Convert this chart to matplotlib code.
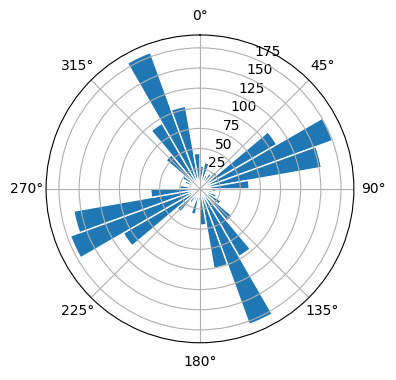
import numpy as np
import matplotlib
matplotlib.use('Agg')
import matplotlib.pyplot as plt

# 10 degree bins, counts (bin start angles in degrees)
bin_starts = np.arange(0, 360, 10)
counts = [28, 33, 18, 22, 28, 110, 175, 153, 61,
          20, 15, 22, 30, 52, 97, 179, 100, 45,
          15, 32, 15, 20, 37, 110, 171, 159, 61,
          25, 15, 20, 25, 55, 94, 180, 104, 44]
bin_width = 10
r_max = 191

fig = plt.figure(figsize=(3.96, 3.80), dpi=100)
ax = fig.add_axes([0.116, 0.098, 0.778, 0.810], projection='polar')
ax.set_theta_zero_location('N')
ax.set_theta_direction(-1)

theta = np.deg2rad(bin_starts + bin_width / 2)
ax.bar(theta, counts, width=np.deg2rad(bin_width), color='C0', edgecolor='white', linewidth=1)

ax.set_rmax(r_max)
ax.set_rticks([25, 50, 75, 100, 125, 150, 175])

fig.savefig('out.png', dpi=100)
